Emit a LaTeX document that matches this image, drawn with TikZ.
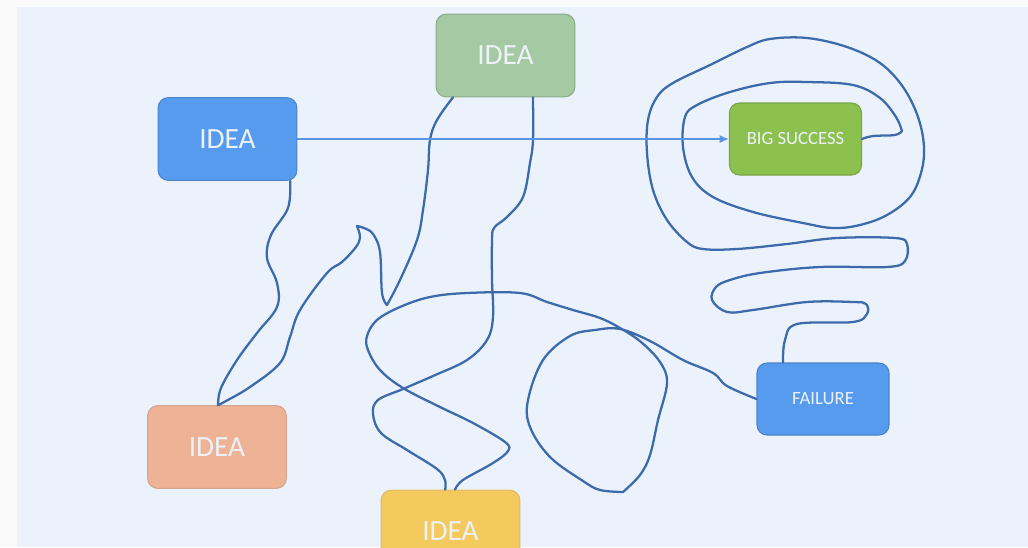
\documentclass[tikz,border=0pt]{standalone}
\usepackage{fontspec}
\setmainfont{Carlito}
\usetikzlibrary{arrows.meta}

\definecolor{outerbg}{RGB}{250,250,251}
\definecolor{slidebg}{RGB}{236,242,252}
\definecolor{ideablue}{RGB}{86,155,238}
\definecolor{ideagreen}{RGB}{165,201,162}
\definecolor{ideaorange}{RGB}{238,178,148}
\definecolor{ideayellow}{RGB}{244,201,94}
\definecolor{successgreen}{RGB}{140,193,80}
\definecolor{scribblecol}{RGB}{60,106,170}
\definecolor{arrowcol}{RGB}{88,150,225}
\definecolor{labeltext}{RGB}{236,242,248}

\tikzset{every picture/.style={line width=0.75pt}}
\tikzset{
  ideabox/.style={rectangle, rounded corners=7.5pt, line width=0.8pt, inner sep=0pt,
    text=labeltext, font=\fontsize{22}{26}\selectfont,
    minimum width=104pt, minimum height=62pt},
  resultbox/.style={ideabox, font=\fontsize{14}{16}\selectfont,
    minimum width=99pt, minimum height=54pt},
  scribble/.style={draw=scribblecol, line width=1.7pt, line join=round, line cap=round},
  flowarrow/.style={draw=arrowcol, line width=1.2pt, -{Latex[length=7pt,width=6pt]}}
}

\begin{document}
\begin{tikzpicture}[x=0.75pt,y=0.75pt,yscale=-1,xscale=1]
	\useasboundingbox (0,0) rectangle (1028,547);
	\clip (0,0) rectangle (1028,547);

	%Shape: Slide background
	\fill[outerbg] (0,0) rectangle (1028,547);
	\fill[slidebg] (17,7) rectangle (1028,547);

	%Shape: Rounded Rect
	\node[ideabox, fill=ideablue, draw=ideablue!85!black] (idea1) at (227.5,139) {IDEA};
	%Shape: Rounded Rect
	\node[ideabox, fill=ideagreen, draw=ideagreen!85!black] (idea2) at (505.5,55.5) {IDEA};
	%Shape: Rounded Rect
	\node[ideabox, fill=ideaorange, draw=ideaorange!75!gray] (idea3) at (217,447) {IDEA};
	%Shape: Rounded Rect
	\node[ideabox, fill=ideayellow, draw=ideayellow!80!gray] (idea4) at (450.5,531.5) {IDEA};
	%Shape: Rounded Rect
	\node[resultbox, fill=successgreen, draw=successgreen!85!black] (success) at (795.5,139) {BIG SUCCESS};
	%Shape: Rounded Rect
	\node[resultbox, fill=ideablue, draw=ideablue!85!black] (failure) at (823,399) {FAILURE};

	%Curve Lines: first idea, down and back up
	\draw[scribble] plot[smooth, tension=0.6] coordinates {([xshift=47pt]idea1.south) (288,208) (271,235) (267,258) (277,283) (277,307) (257,333) (237,360) (221,388) ([xshift=0.75pt]idea3.north)}
		-- plot[smooth, tension=0.6] coordinates {([xshift=0.75pt]idea3.north) (226,401) (250,387) (280,363) (290,337) (300,310) (327,273) (342,262) (356,247) (360,237) (357,226)}
		-- plot[smooth, tension=0.6] coordinates {(357,226) (364,228) (373,234) (380,252) (382,293) (387,305)}
		-- plot[smooth, tension=0.6] coordinates {(387,305) (400,280) (417,240) (423,210) (428,170) (430,140) (437,120) ([xshift=-39.4pt]idea2.south)};
	%Curve Lines: second idea to the fourth
	\draw[scribble] plot[smooth, tension=0.6] coordinates {([xshift=20.6pt]idea2.south) (533,140) (530,163) (523,197) (507,217) (494,228) (492,242) (492,280) (493,317) (487,340) (467,360) (433,376) (403,389) (378,400) (373,414) (381,433) (407,450) (437,469) (445,480) ([xshift=-4pt]idea4.north)};
	%Curve Lines: fourth idea, round the loop, to failure
	\draw[scribble] plot[smooth, tension=0.6] coordinates {([xshift=3.4pt]idea4.north) (463,480) (493,463) (508,451) (505,442) (473,423) (440,407) (403,388) (380,370) (368,350) (367,336) (377,320) (400,307) (430,297) (467,293) (520,293) (547,302) (573,310) (600,318) (620,328) (641,342) (660,362) (667,383) (658,420) (650,455) (640,475) (623,492)}
		-- plot[smooth, tension=0.6] coordinates {(623,492) (600,490) (583,481) (550,457) (530,427) (528,400) (543,360) (570,336) (595,330) (620,329) (650,341) (683,360) (713,373) (727,386) (failure.west)};
	%Curve Lines: failure, spiral into big success
	\draw[scribble] plot[smooth, tension=0.6] coordinates {([xshift=-30pt]failure.north) (785,340) (797,324) (853,322) (867,314) (866,304) (853,302) (807,302) (753,310) (727,312) (712,300) (716,287) (730,280) (760,273) (820,267) (887,267) (905,261) (907,244) (895,238) (837,238) (787,244) (737,249) (703,249) (687,242) (667,220) (653,190) (647,153) (648,120) (657,97) (673,83) (710,65) (747,47) (770,39) (807,38) (847,47) (880,63) (903,87) (918,117) (924,147) (921,173) (910,197) (887,215) (860,225) (833,228) (803,223) (753,212) (713,197) (692,177) (683,147) (685,117) (697,105) (730,92) (770,83) (807,82) (853,85) (880,98) (896,117) (902,131)}
		-- plot[smooth, tension=0.6] coordinates {(902,131) (895,135) (873,136) (success.east)};

	%Straight Lines
	\draw[flowarrow] (idea1.east) -- (success.west);

\end{tikzpicture}
\end{document}
